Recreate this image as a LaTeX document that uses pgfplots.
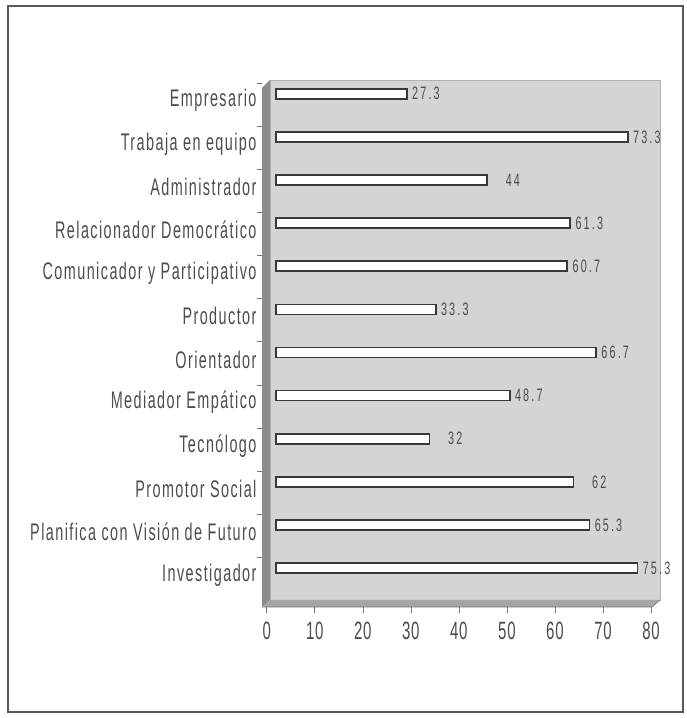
\documentclass[border=0pt]{standalone}
\usepackage{fontspec}
\setmainfont{Liberation Sans}[FakeStretch=0.6, LetterSpace=6]
\newfontfamily\valfont{Liberation Sans}[FakeStretch=0.6, LetterSpace=12]
\newfontfamily\tickfont{Liberation Sans}[FakeStretch=0.6, LetterSpace=3]
\usepackage{pgfplots}
\pgfplotsset{compat=1.18}
\definecolor{txt}{HTML}{4C4C4C}
\begin{document}
\begin{tikzpicture}[x=1pt,y=1pt]
\path (0,0) rectangle (686,718);
\draw[black!65, line width=1.3pt] (8,6) rectangle (683,712);
\begin{axis}[
  scale only axis,
  width=390pt, height=520pt,
  at={(270pt,118pt)}, anchor=south west,
  xbar, bar width=10pt,
  xmin=-1.2, xmax=80,
  ymin=-0.74, ymax=11.32,
  axis background/.style={fill=black!17},
  axis line style={draw=black!30, line width=0.8pt},
  xtick={0,10,...,80},
  xtick pos=bottom,
  ytick={0,...,11},
  ytick pos=left,
  yticklabels={Investigador,Planifica con Visión de Futuro,Promotor Social,Tecnólogo,Mediador Empático,Orientador,Productor,Comunicador y Participativo,Relacionador Democrático,Administrador,Trabaja en equipo,Empresario},
  ytick style={draw=none},
  extra y ticks={-0.75,0.25,1.25,2.25,3.25,4.25,5.25,6.25,7.25,8.25,9.25,10.25,11.25},
  extra y tick labels={},
  extra y tick style={ytick style={draw=black!55, line width=0.6pt, xshift=-8pt}, major tick length=5pt},
  tick align=outside,
  x tick style={draw=black!55, line width=0.6pt, xshift=-9pt, yshift=-7pt},
  major tick length=6pt,
  xticklabel={\pgfmathprintnumber[assume math mode=true]{\tick}},
  xticklabel style={xshift=-9pt, yshift=-13pt, font=\fontsize{25}{27}\selectfont\tickfont, text=txt},
  yticklabel style={xshift=-4pt, yshift=-7pt, font=\fontsize{24}{26}\selectfont, text=txt},
  /pgf/number format/assume math mode=true,
  nodes near coords,
  point meta=explicit symbolic,
  nodes near coords style={anchor=west, text width=31pt, align=right, inner sep=1pt, font=\fontsize{18}{20}\selectfont\valfont, text=txt},
  clip=false,
]
\addplot[fill=white, draw=black!78, line width=1.7pt] table[meta=lab] {
x y lab
75.3 0 75.3
65.3 1 65.3
62 2 62
32 3 32
48.7 4 48.7
66.7 5 66.7
33.3 6 33.3
60.7 7 60.7
61.3 8 61.3
44 9 44
73.3 10 73.3
27.3 11 27.3
};
\end{axis}
\fill[black!45] (262,111) -- (262,630) -- (270,638) -- (270,118) -- cycle;
\fill[black!35] (262,111) -- (270,118) -- (660,118) -- (652,111) -- cycle;
\draw[black!55, line width=0.6pt] (262,111) -- (652,111) -- (660,118);
\end{tikzpicture}
\end{document}
